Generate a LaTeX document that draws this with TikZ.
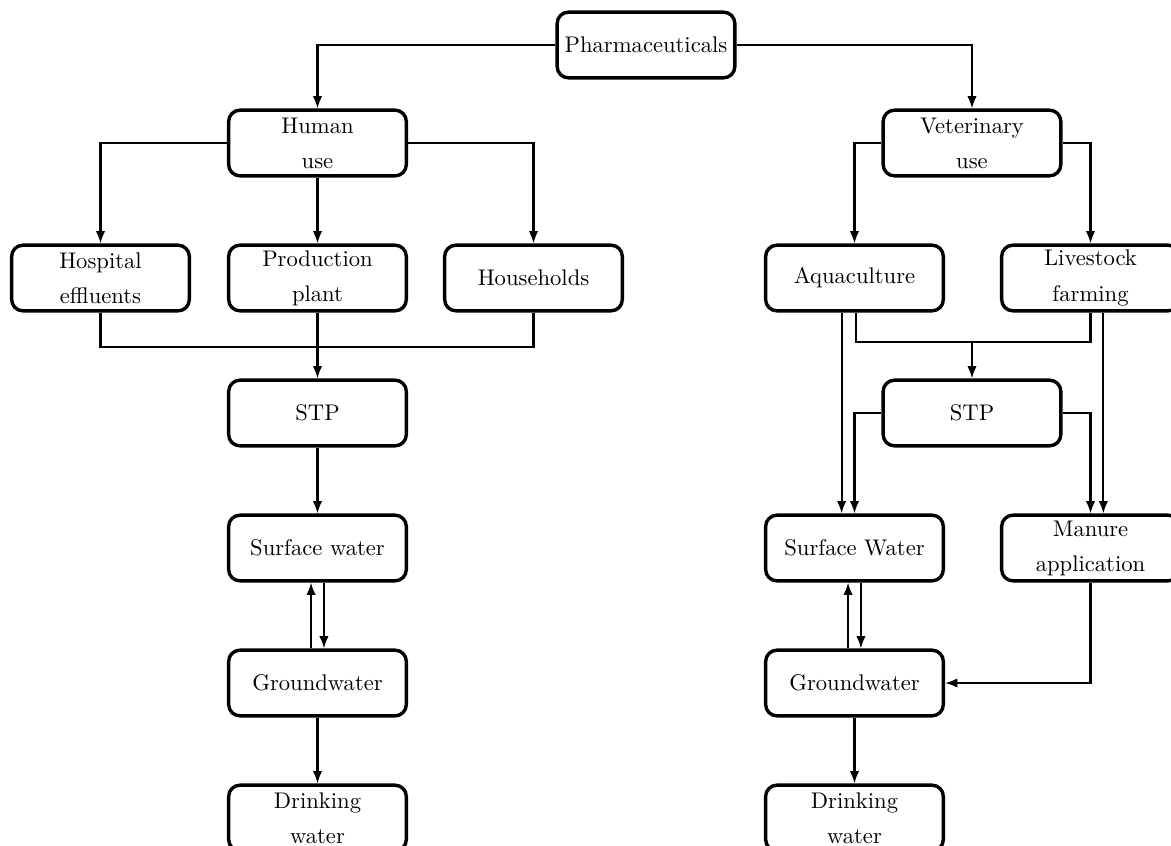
\documentclass[tikz,border=0pt]{standalone}
\usetikzlibrary{arrows.meta}
\begin{document}
\begin{tikzpicture}[x=0.01554cm,y=-0.01554cm,
  box/.style={draw,line width=1.5pt,rounded corners=5pt,minimum width=2.76cm,minimum height=1.02cm,align=center,inner sep=2pt,font=\fontsize{10pt}{15.5pt}\selectfont},
  conn/.style={line width=0.9pt},
  arr/.style={conn,-{Latex[length=5.5pt,width=4.2pt]}}]
\useasboundingbox (0,0) rectangle (1171,846);
% nodes
\node[box] (ph) at (646,45) {Pharmaceuticals};
\node[box] (hu) at (317.5,143) {Human\\use};
\node[box] (vu) at (972,143) {Veterinary\\use};
\node[box] (ho) at (100.5,278) {Hospital\\effluents};
\node[box] (pp) at (317.5,278) {Production\\plant};
\node[box] (hh) at (533.5,278) {Households};
\node[box] (aq) at (854.5,278) {Aquaculture};
\node[box] (lf) at (1090.5,278) {Livestock\\farming};
\node[box] (stpl) at (317.5,413) {STP};
\node[box] (stpr) at (972,413) {STP};
\node[box] (swl) at (317.5,548) {Surface water};
\node[box] (swr) at (854.5,548) {Surface Water};
\node[box] (ma) at (1090.5,548) {Manure\\application};
\node[box] (gwl) at (317.5,683) {Groundwater};
\node[box] (gwr) at (854.5,683) {Groundwater};
\node[box] (dwl) at (317.5,818) {Drinking\\water};
\node[box] (dwr) at (854.5,818) {Drinking\\water};
% top
\draw[arr] (ph.west) -| (hu.north);
\draw[arr] (ph.east) -| (vu.north);
\draw[arr] (hu.west) -| (ho.north);
\draw[arr] (hu.south) -- (pp.north);
\draw[arr] (hu.east) -| (hh.north);
\draw[arr] (vu.west) -| (aq.north);
\draw[arr] (vu.east) -| (lf.north);
% left merge
\coordinate (lm) at (317.5,347);
\draw[conn] (ho.south) |- (lm) -| (hh.south);
\draw[arr] (pp.south) -- (stpl.north);
\draw[arr] (stpl.south) -- (swl.north);
\draw[arr] ([xshift=-0.1cm]gwl.north) -- ([xshift=-0.1cm]swl.south);
\draw[arr] ([xshift=0.1cm]swl.south) -- ([xshift=0.1cm]gwl.north);
\draw[arr] (gwl.south) -- (dwl.north);
% right merge
\coordinate (rm) at (972,342);
\draw[conn] ([xshift=0.02cm]aq.south) |- (rm) -| (lf.south);
\draw[arr] (rm) -- (stpr.north);
\draw[arr] ([xshift=-0.2cm]aq.south) -- ([xshift=-0.2cm]swr.north);
\draw[arr] (stpr.west) -| (swr.north);
\draw[arr] (stpr.east) -| (ma.north);
\draw[arr] ([xshift=0.2cm]lf.south) -- ([xshift=0.2cm]ma.north);
\draw[arr] ([xshift=-0.1cm]gwr.north) -- ([xshift=-0.1cm]swr.south);
\draw[arr] ([xshift=0.1cm]swr.south) -- ([xshift=0.1cm]gwr.north);
\draw[arr] (ma.south) |- (gwr.east);
\draw[arr] (gwr.south) -- (dwr.north);
\end{tikzpicture}
\end{document}
